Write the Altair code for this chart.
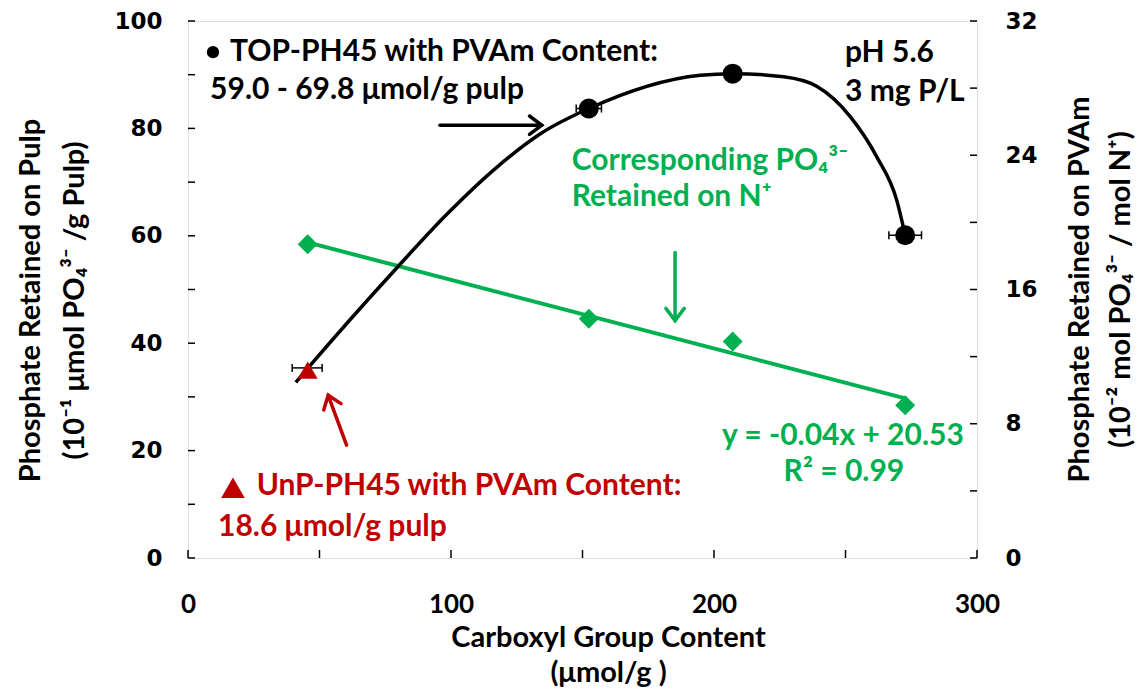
import altair as alt
import pandas as pd

# ---------------- data ----------------
top_x = [45.5, 152.4, 207.1, 272.7]
top_y = [35.4, 83.7, 90.2, 60.1]
top_err_lo = [39.6, 147.6, 205.0, 266.5]
top_err_hi = [51.0, 157.2, 209.2, 278.9]

curve_x = [41.0, 45.5, 79.7, 98.6, 117.5, 134.0, 152.4, 194.8, 207.1, 226.5, 239.2, 251.8, 261.9, 269.5, 272.7]
curve_y = [32.7, 35.3, 54.2, 64.1, 72.8, 79.0, 83.7, 89.9, 90.2, 89.6, 87.8, 82.2, 74.7, 66.6, 60.1]

unp_x = [45.5]
unp_y = [35.0]

green_x = [45.5, 152.4, 207.1, 272.7]
green_y = [18.7, 14.25, 12.9, 9.1]

x_label_vals = [0, 100, 200, 300]
x_tick_vals = [0, 50, 100, 150, 200, 250, 300]
left_label_vals = [0, 20, 40, 60, 80, 100]
left_tick_vals = [0, 10, 20, 30, 40, 50, 60, 70, 80, 90, 100]
right_label_vals = [0, 8, 16, 24, 32]
right_tick_vals = [0, 4, 8, 12, 16, 20, 24, 28, 32]

GREEN = "#00B050"
RED = "#C00000"

arrow_x0 = [95.8, 185.2, 60.3]
arrow_y0 = [80.6, 56.9, 21.0]
arrow_x1 = [134.5, 185.2, 53.3]
arrow_y1 = [80.6, 44.2, 30.3]
arrow_angle = [0, 90, 250]
arrow_color = ["black", GREEN, RED]

black_text = ["TOP-PH45 with PVAm Content:", "59.0 - 69.8 μmol/g pulp", "pH 5.6", "3 mg P/L"]
black_text_x = [16.0, 8.4, 249.8, 249.8]
black_text_y = [94.2, 87.1, 94.0, 86.8]

green_text = ["Corresponding PO₄³⁻", "Retained on N⁺"]
green_text_x = [145.9, 145.9]
green_text_y = [74.0, 67.2]

eq_text = ["y = -0.04x + 20.53", "R² = 0.99"]
eq_text_x = [249.0, 249.4]
eq_text_y = [22.8, 16.0]

red_text = ["UnP-PH45 with PVAm Content:", "18.6 μmol/g pulp"]
red_text_x = [26.1, 11.4]
red_text_y = [13.5, 5.7]

bullet_x, bullet_y = [9.5], [94.2]
tri_key_x, tri_key_y = [17.1], [13.1]

# ---------------- chart ----------------
FONT = "Lato"
TICKFONT = "DejaVu Sans"
W, H = 789, 537

xs = alt.Scale(domain=[0, 300], nice=False, zero=False)
yl = alt.Scale(domain=[0, 100], nice=False)
yr = alt.Scale(domain=[0, 32], nice=False)

x_axis = alt.Axis(values=x_label_vals, ticks=False, domain=False, grid=False,
                  labelFont=FONT, labelFontSize=26, labelFontWeight="bold", labelColor="black",
                  labelPadding=33, labelFlush=False, labelOverlap=False,
                  title=["Carboxyl Group Content", "(μmol/g )"], titleFont=FONT, titleFontSize=29,
                  titleFontWeight="bold", titleColor="black", titleX=420, titleY=88,
                  titleAlign="center", titleBaseline="alphabetic", titleLineHeight=35)

left_axis = alt.Axis(orient="left", values=left_label_vals, ticks=False, domain=False, grid=False,
                     labelFont=TICKFONT, labelFontSize=23, labelFontWeight="bold", labelColor="black",
                     labelPadding=26, labelFlush=False,
                     title=["Phosphate Retained on Pulp", "(10⁻¹ μmol PO₄³⁻ /g Pulp)"],
                     titleFont=FONT, titleFontSize=29, titleFontWeight="bold", titleColor="black",
                     titleAngle=270, titleX=-149, titleY=279, titleAlign="center",
                     titleBaseline="alphabetic", titleLineHeight=44)

right_axis = alt.Axis(orient="right", values=right_label_vals, ticks=False, domain=False, grid=False,
                      labelFont=TICKFONT, labelFontSize=23, labelFontWeight="bold", labelColor="black",
                      labelPadding=28, labelFlush=False,
                      title=["Phosphate Retained on PVAm", "(10⁻² mol PO₄³⁻ / mol N⁺)"],
                      titleFont=FONT, titleFontSize=29, titleFontWeight="bold", titleColor="black",
                      titleAngle=270, titleX=111, titleY=268, titleAlign="center",
                      titleBaseline="alphabetic", titleLineHeight=41)

X = alt.X("x:Q", scale=xs, axis=x_axis)
YL = alt.Y("y:Q", scale=yl, axis=left_axis)
YR = alt.Y("y:Q", scale=yr, axis=right_axis)

curve_df = pd.DataFrame({"x": curve_x, "y": curve_y})
top_df = pd.DataFrame({"x": top_x, "y": top_y, "lo": top_err_lo, "hi": top_err_hi})
cap_df = pd.DataFrame({"x": top_err_lo + top_err_hi, "y": top_y + top_y})
unp_df = pd.DataFrame({"x": unp_x, "y": unp_y})
green_df = pd.DataFrame({"x": green_x, "y": green_y})
arrow_df = pd.DataFrame({"x": arrow_x0, "y": arrow_y0, "x1": arrow_x1, "y1": arrow_y1,
                         "angle": arrow_angle, "color": arrow_color})


def text_layer(texts, xv, yv, color, align):
    df = pd.DataFrame({"x": xv, "y": yv, "t": texts})
    return alt.Chart(df).mark_text(font=FONT, fontSize=30, fontWeight="bold", color=color,
                                   align=align, baseline="middle").encode(x=X, y=YL, text="t:N")


curve = alt.Chart(curve_df).mark_line(color="black", strokeWidth=3.5, interpolate="monotone").encode(x=X, y=YL)
err = alt.Chart(top_df).mark_rule(color="black", strokeWidth=1.5).encode(
    x=X, x2=alt.X2("hi:Q"), y=YL).transform_calculate(x="datum.lo")
caps = alt.Chart(cap_df).mark_point(shape="stroke", angle=90, size=64, color="black",
                                    strokeWidth=1.5, filled=False, opacity=1).encode(x=X, y=YL)
# the first TOP point lies under the UnP triangle in the reference
top_pts = alt.Chart(top_df).transform_filter("datum.x > 50").mark_point(
    shape="circle", size=400, filled=True, color="black", opacity=1).encode(x=X, y=YL)
unp_pts = alt.Chart(unp_df).mark_point(shape="triangle-up", size=400, filled=True, color=RED,
                                       opacity=1).encode(x=X, y=YL)
shafts = alt.Chart(arrow_df).mark_rule(strokeWidth=3.5, strokeCap="round").encode(
    x=X, y=YL, x2=alt.X2("x1:Q"), y2=alt.Y2("y1:Q"), color=alt.Color("color:N", scale=None))
heads = alt.Chart(arrow_df).mark_point(shape="M-1,-0.75L0,0L-1,0.75", size=600, filled=False,
                                       strokeWidth=3.5, opacity=1, strokeCap="round").encode(
    x=alt.X("x1:Q", scale=xs, axis=x_axis), y=alt.Y("y1:Q", scale=yl, axis=left_axis),
    angle=alt.Angle("angle:Q", scale=None), color=alt.Color("color:N", scale=None))
bullet = alt.Chart(pd.DataFrame({"x": bullet_x, "y": bullet_y})).mark_point(
    shape="circle", size=150, filled=True, color="black", opacity=1).encode(x=X, y=YL)
tri_key = alt.Chart(pd.DataFrame({"x": tri_key_x, "y": tri_key_y})).mark_point(
    shape="triangle-up", size=560, filled=True, color=RED, opacity=1).encode(x=X, y=YL)

left_ticks = alt.Chart(pd.DataFrame({"y": left_tick_vals})).mark_rule(color="black", strokeWidth=1.5).encode(
    y=YL, x=alt.value(0), x2=alt.value(7))
x_ticks = alt.Chart(pd.DataFrame({"x": x_tick_vals})).mark_rule(color="black", strokeWidth=1.5).encode(
    x=X, y=alt.value(H), y2=alt.value(H - 8))
right_ticks = alt.Chart(pd.DataFrame({"y": right_tick_vals})).mark_rule(color="black", strokeWidth=1.5).encode(
    y=YR, x=alt.value(W - 7), x2=alt.value(W))

green_line = alt.Chart(green_df).transform_regression("x", "y", method="linear").mark_line(
    color=GREEN, strokeWidth=4).encode(x=X, y=YR)
green_pts = alt.Chart(green_df).mark_point(shape="diamond", size=400, filled=True, color=GREEN,
                                           opacity=1).encode(x=X, y=YR)

left_group = alt.layer(
    left_ticks, x_ticks, curve, err, caps, top_pts, unp_pts, shafts, heads, bullet, tri_key,
    text_layer(black_text, black_text_x, black_text_y, "black", "left"),
    text_layer(green_text, green_text_x, green_text_y, GREEN, "left"),
    text_layer(eq_text, eq_text_x, eq_text_y, GREEN, "center"),
    text_layer(red_text, red_text_x, red_text_y, RED, "left"),
)
right_group = alt.layer(right_ticks, green_line, green_pts)

chart = alt.layer(right_group, left_group).resolve_scale(y="independent").properties(
    width=W, height=H,
    autosize=alt.AutoSizeParams(type="none"),
    padding={"left": 180, "top": 13, "right": 161, "bottom": 130},
).configure_view(stroke="black", strokeWidth=2).configure(background="white")

chart.save("out.html", embed_options={"renderer": "svg", "actions": False})
